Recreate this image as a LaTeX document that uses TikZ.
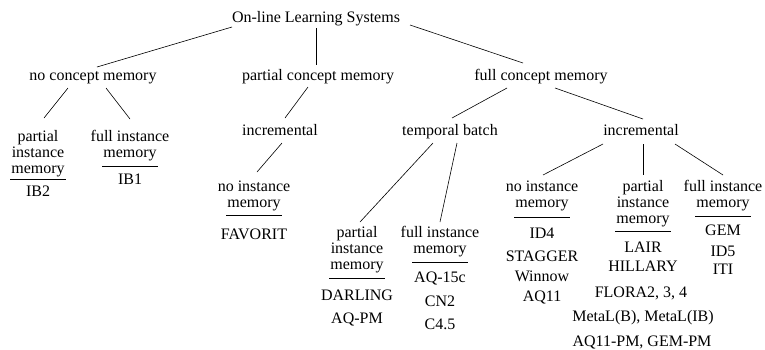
\documentclass[tikz,border=0pt]{standalone}
\usepackage{fontspec}
\setmainfont{Liberation Serif}
\usetikzlibrary{calc}
\begin{document}
\begin{tikzpicture}[x=1pt,y=-1pt,
  lbl/.style={inner sep=0pt, text height=12pt, text depth=3pt, font=\fontsize{16}{16}\selectfont},
  edge/.style={line width=0.6pt},
  rule/.style={line width=0.9pt}]
\useasboundingbox (0,0) rectangle (765,349);
% upper levels
\node[lbl] (root) at (316,18) {On-line Learning Systems};
\node[lbl] (nc) at (93,76) {no concept memory};
\node[lbl] (pc) at (318,76) {partial concept memory};
\node[lbl] (fc) at (541,76) {full concept memory};
\node[lbl] (inc1) at (280,131) {incremental};
\node[lbl] (tb) at (450,131) {temporal batch};
\node[lbl] (inc2) at (641,131) {incremental};
% L1
\node[lbl] (l1a) at (38,137) {partial};
\node[lbl] (l1b) at (38,153) {instance};
\node[lbl] (l1c) at (38,169) {memory};
\node[lbl] (ib2) at (38,192) {IB2};
% L2
\node[lbl] (l2a) at (130,137) {full instance};
\node[lbl] (l2b) at (130,153) {memory};
\node[lbl] (ib1) at (130,180) {IB1};
% L3
\node[lbl] (l3a) at (254,187) {no instance};
\node[lbl] (l3b) at (254,203) {memory};
\node[lbl] (fav) at (254,235) {FAVORIT};
% L4
\node[lbl] (l4a) at (357,233) {partial};
\node[lbl] (l4b) at (357,249) {instance};
\node[lbl] (l4c) at (357,265) {memory};
\node[lbl] (darl) at (357,296) {DARLING};
\node[lbl] (aqpm) at (357,319) {AQ-PM};
% L5
\node[lbl] (l5a) at (440,233) {full instance};
\node[lbl] (l5b) at (440,249) {memory};
\node[lbl] (aq15) at (440,278) {AQ-15c};
\node[lbl] (cn2) at (440,302) {CN2};
\node[lbl] (c45) at (440,325) {C4.5};
% L6
\node[lbl] (l6a) at (542,187) {no instance};
\node[lbl] (l6b) at (542,203) {memory};
\node[lbl] (id4) at (542,234) {ID4};
\node[lbl] (stag) at (542,257) {STAGGER};
\node[lbl] (winn) at (542,277) {Winnow};
\node[lbl] (aq11) at (542,297) {AQ11};
% L7
\node[lbl] (l7a) at (643,187) {partial};
\node[lbl] (l7b) at (643,203) {instance};
\node[lbl] (l7c) at (643,219) {memory};
\node[lbl] (lair) at (643,248) {LAIR};
\node[lbl] (hill) at (643,267) {HILLARY};
\node[lbl] (flora) at (641,293) {FLORA2, 3, 4};
\node[lbl] (metal) at (643,317) {MetaL(B), MetaL(IB)};
\node[lbl] (aqgem) at (642,342) {AQ11-PM, GEM-PM};
% L8
\node[lbl] (l8a) at (723,187) {full instance};
\node[lbl] (l8b) at (723,203) {memory};
\node[lbl] (gem) at (723,231) {GEM};
\node[lbl] (id5) at (723,252) {ID5};
\node[lbl] (iti) at (723,270) {ITI};
% underlines
\draw[rule] ($(l1c)+(-28,10)$) -- ($(l1c)+(28,10)$);
\draw[rule] ($(l2b)+(-28,13)$) -- ($(l2b)+(28,13)$);
\draw[rule] ($(l3b)+(-28,12)$) -- ($(l3b)+(28,12)$);
\draw[rule] ($(l4c)+(-28,13)$) -- ($(l4c)+(28,13)$);
\draw[rule] ($(l5b)+(-28,13)$) -- ($(l5b)+(28,13)$);
\draw[rule] ($(l6b)+(-28,14)$) -- ($(l6b)+(28,14)$);
\draw[rule] ($(l7c)+(-28,12)$) -- ($(l7c)+(28,12)$);
\draw[rule] ($(l8b)+(-28,13)$) -- ($(l8b)+(28,13)$);
% connectors
\draw[edge] ($(root)+(-84,9)$) -- ($(nc)+(4,-9)$);
\draw[edge] ($(root)+(0,10)$) -- ($(pc)+(-2,-11)$);
\draw[edge] ($(root)+(94,7)$) -- ($(fc)+(-18,-13)$);
\draw[edge] ($(nc)+(-25,12)$) -- ($(l1a)+(6,-19)$);
\draw[edge] ($(nc)+(13,12)$) -- ($(l2a)+(0,-18)$);
\draw[edge] ($(pc)+(-10,11)$) -- ($(inc1)+(5,-13)$);
\draw[edge] ($(inc1)+(2,12)$) -- ($(l3a)+(3,-15)$);
\draw[edge] ($(fc)+(-34,12)$) -- ($(tb)+(2,-13)$);
\draw[edge] ($(fc)+(14,12)$) -- ($(inc2)+(2,-12)$);
\draw[edge] ($(tb)+(-17,12)$) -- ($(l4a)+(3,-11)$);
\draw[edge] ($(tb)+(7,12)$) -- ($(l5a)+(0,-11)$);
\draw[edge] ($(inc2)+(-38,13)$) -- ($(l6a)+(1,-12)$);
\draw[edge] ($(inc2)+(2,13)$) -- ($(l7a)+(0,-12)$);
\draw[edge] ($(inc2)+(34,13)$) -- ($(l8a)+(0,-12)$);
\end{tikzpicture}
\end{document}
